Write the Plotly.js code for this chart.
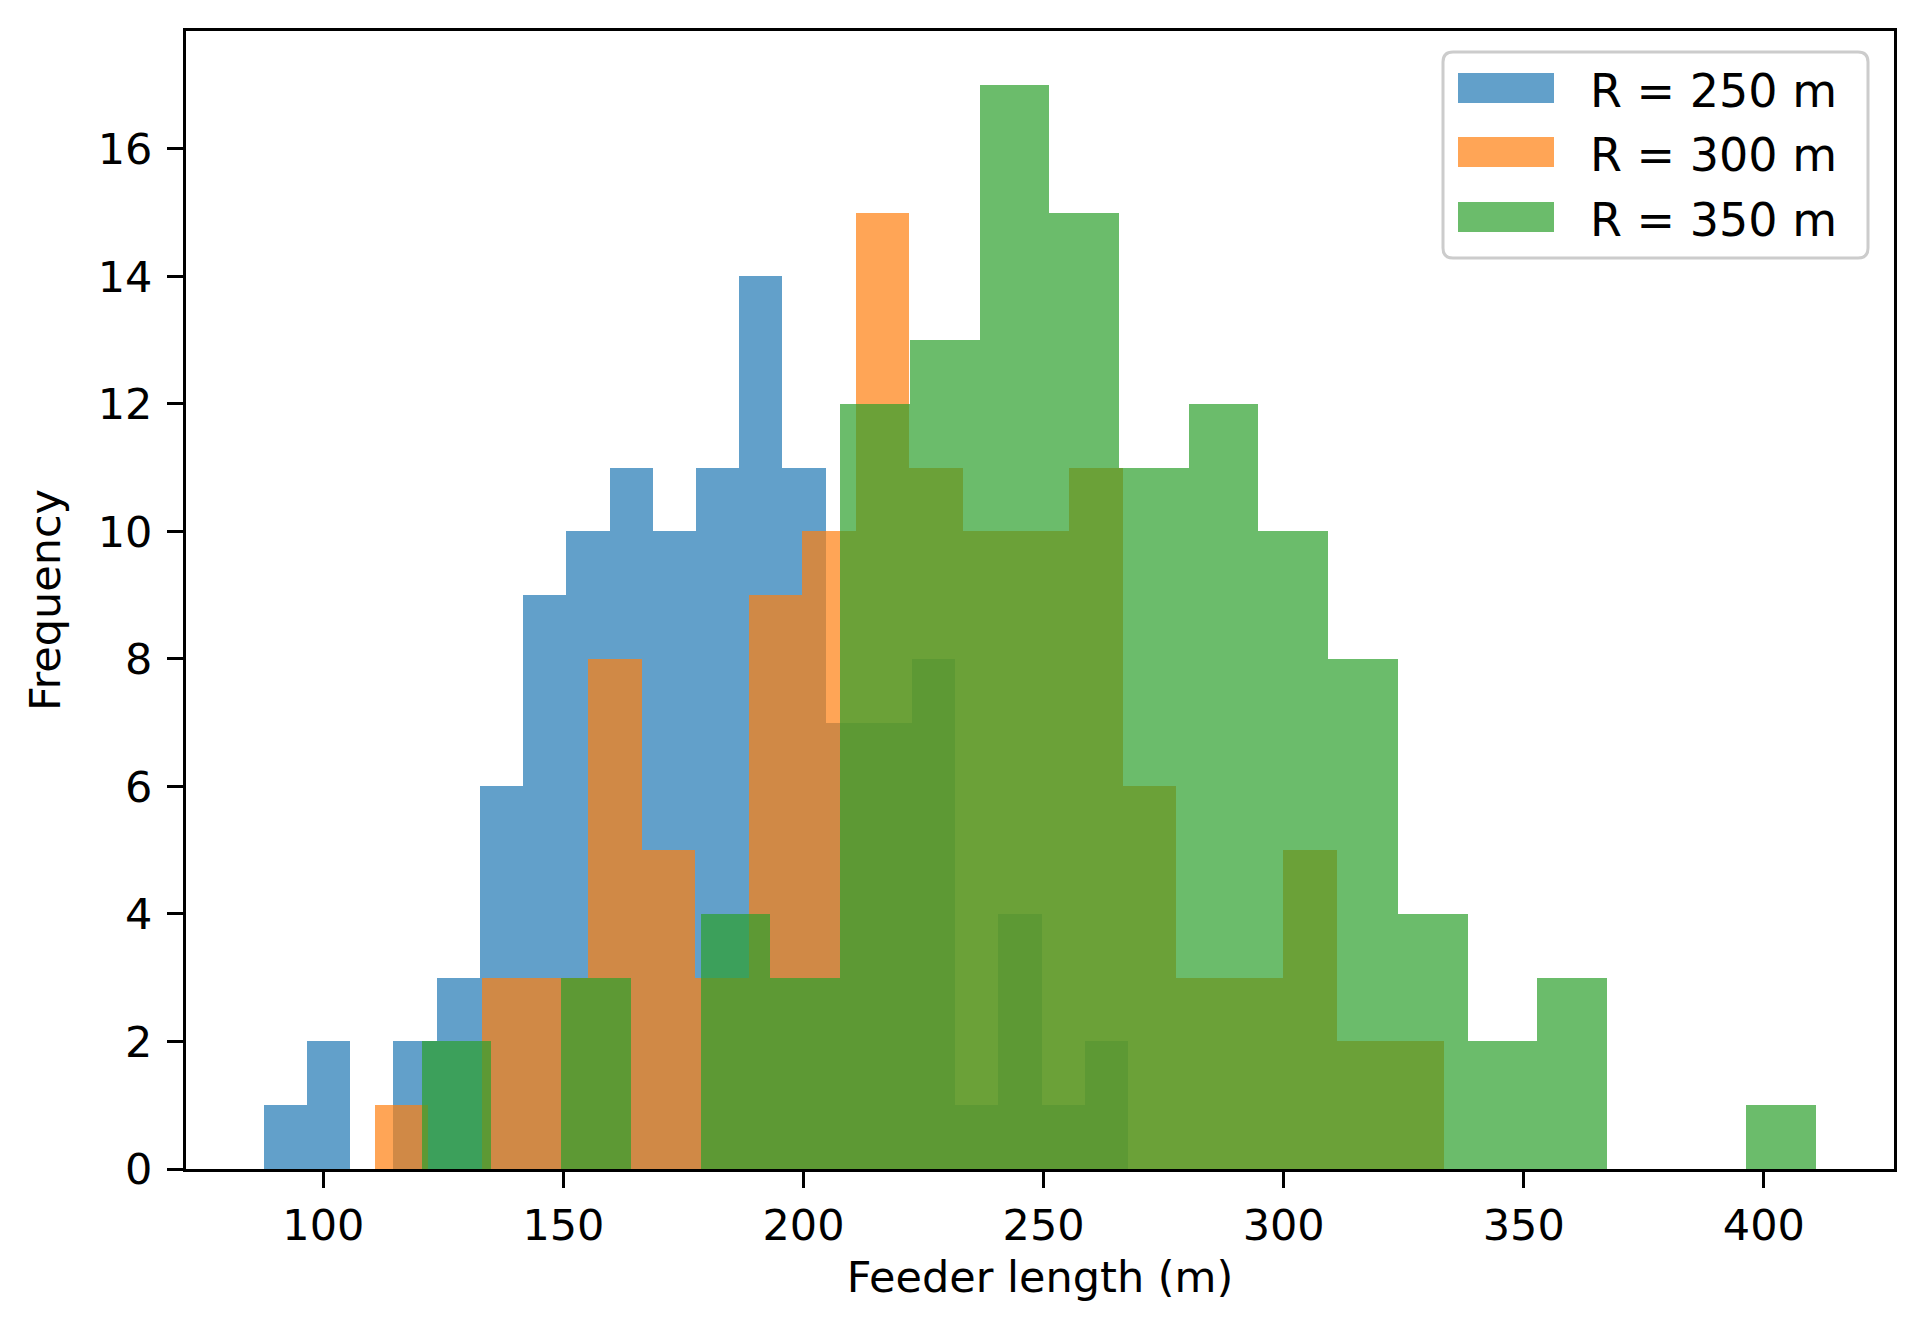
<!DOCTYPE html>
<html>
<head>
<meta charset="utf-8">
<script src="https://cdn.plot.ly/plotly-3.0.1.min.js"></script>
<style>
  html, body { margin: 0; padding: 0; background: #fff; }
  #chart { width: 1922px; height: 1323px; }
</style>
</head>
<body>
<div id="chart"></div>
<script>
// histogram counts, 20 bins per series
const seriesNames = ['R = 250 m', 'R = 300 m', 'R = 350 m'];
const seriesColors = ['rgba(31,119,180,0.7)', 'rgba(255,127,14,0.7)', 'rgba(44,160,44,0.7)'];

const binStart250 = 87.6, binWidth250 = 9.0;
const counts250 = [1, 2, 0, 2, 3, 6, 9, 10, 11, 10, 11, 14, 11, 7, 7, 8, 1, 4, 1, 2];

const binStart300 = 110.7, binWidth300 = 11.13;
const counts300 = [1, 0, 3, 3, 8, 5, 3, 9, 10, 15, 11, 10, 10, 11, 6, 3, 3, 5, 2, 2];

const binStart350 = 120.5, binWidth350 = 14.52;
const counts350 = [2, 0, 3, 0, 4, 3, 12, 13, 17, 15, 11, 12, 10, 8, 4, 2, 3, 0, 0, 1];

const xTicks = [100, 150, 200, 250, 300, 350, 400];
const yTicks = [0, 2, 4, 6, 8, 10, 12, 14, 16];

const FONT = 'DejaVu Sans, Liberation Sans, sans-serif';
const FS = 43;      // ticks and axis titles
const FS_LEG = 46;  // legend text is a bit wider in the original

// page geometry (px), used to place the hand made legend
const W = 1922, H = 1323;
const M = { l: 186, r: 28, t: 31, b: 154 };
const plotW = W - M.l - M.r, plotH = H - M.t - M.b;
const px = x => (x - M.l) / plotW;
const py = y => 1 - (y - M.t) / plotH;

function histTrace(name, color, start, width, counts) {
  return {
    type: 'bar',
    name: name,
    x: counts.map((c, i) => start + (i + 0.5) * width),
    y: counts,
    width: width,
    marker: { color: color, line: { width: 0 } },
    showlegend: false,
    hoverinfo: 'x+y+name'
  };
}

const data = [
  histTrace(seriesNames[0], seriesColors[0], binStart250, binWidth250, counts250),
  histTrace(seriesNames[1], seriesColors[1], binStart300, binWidth300, counts300),
  histTrace(seriesNames[2], seriesColors[2], binStart350, binWidth350, counts350)
];

// legend: rounded frame, swatches and labels
function roundRect(x0, y0, x1, y1, r) {
  const rx = r / plotW, ry = r / plotH;
  const X0 = px(x0), X1 = px(x1), Y0 = py(y0), Y1 = py(y1); // Y0 top, Y1 bottom
  return `M${X0 + rx},${Y0} L${X1 - rx},${Y0} Q${X1},${Y0} ${X1},${Y0 - ry} ` +
         `L${X1},${Y1 + ry} Q${X1},${Y1} ${X1 - rx},${Y1} ` +
         `L${X0 + rx},${Y1} Q${X0},${Y1} ${X0},${Y1 + ry} ` +
         `L${X0},${Y0 - ry} Q${X0},${Y0} ${X0 + rx},${Y0} Z`;
}

const shapes = [{
  type: 'path', xref: 'paper', yref: 'paper', layer: 'above',
  path: roundRect(1443, 52, 1868, 258, 10),
  fillcolor: 'rgba(255,255,255,0.8)',
  line: { color: '#cccccc', width: 3 }
}];
const annotations = [];
const rowY = [88, 152, 217];
seriesNames.forEach((n, i) => {
  shapes.push({
    type: 'rect', xref: 'paper', yref: 'paper', layer: 'above',
    x0: px(1458), x1: px(1554), y0: py(rowY[i] - 15), y1: py(rowY[i] + 15),
    fillcolor: seriesColors[i], line: { width: 0 }
  });
  annotations.push({
    xref: 'paper', yref: 'paper', x: px(1588), y: py(rowY[i] + 3),
    xanchor: 'left', yanchor: 'middle', showarrow: false,
    text: n, font: { family: FONT, size: FS_LEG, color: '#000' }
  });
});

const axisCommon = {
  ticks: 'outside', ticklen: 16, tickwidth: 3, tickcolor: '#000',
  showline: true, linecolor: '#000', linewidth: 3, mirror: true,
  showgrid: false, zeroline: false,
  tickfont: { family: FONT, size: FS, color: '#000' }
};

const layout = {
  width: W, height: H,
  margin: M,
  paper_bgcolor: '#fff', plot_bgcolor: '#fff',
  barmode: 'overlay',
  bargap: 0,
  xaxis: Object.assign({}, axisCommon, {
    range: [71.4, 427.1],
    tickmode: 'array', tickvals: xTicks, ticktext: xTicks.map(String),
    title: { text: 'Feeder length (m)', font: { family: FONT, size: FS, color: '#000' }, standoff: 14 }
  }),
  yaxis: Object.assign({}, axisCommon, {
    range: [0, 17.85],
    tickmode: 'array', tickvals: yTicks, ticktext: yTicks.map(String),
    ticklabelstandoff: 6,
    title: { text: 'Frequency', font: { family: FONT, size: FS, color: '#000' }, standoff: 24 }
  }),
  shapes: shapes,
  annotations: annotations,
  showlegend: false
};

Plotly.newPlot('chart', data, layout, { staticPlot: true });
</script>
</body>
</html>
